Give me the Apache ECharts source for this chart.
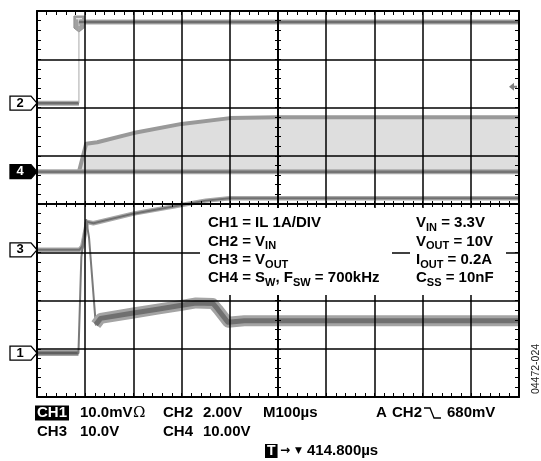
<!DOCTYPE html>
<html>
<head>
<meta charset="utf-8">
<script src="https://cdn.jsdelivr.net/npm/echarts@6/dist/echarts.min.js"></script>
<style>
  html, body { margin: 0; padding: 0; background: #fff; }
  #chart { width: 541px; height: 461px; }
</style>
</head>
<body>
<div id="chart"></div>
<script>
// all traces in screen divisions: x 0..10 (100us/div), y 0..8
const ch1Pre = [[0, 0.91], [0.86, 0.91]];
const ch1Spike = [[0.86, 0.91], [0.92, 2.9], [1.02, 3.67], [1.08, 3.3], [1.22, 1.5]];
const ch1Band = [[1.22, 1.5], [1.32, 1.63], [2, 1.74], [2.5, 1.82], [3, 1.9], [3.3, 1.95],
  [3.65, 1.94], [3.75, 1.82], [3.96, 1.55], [4.3, 1.58], [10, 1.58]];

const ch2Low = [[0, 6.09], [0.87, 6.09]];
const ch2Edge = [[0.87, 6.09], [0.87, 7.77]];
const ch2High = [[0.87, 7.77], [10, 7.77]];

const ch3Trace = [[0, 3.05], [0.88, 3.05], [0.94, 3.12], [1.04, 3.63], [1.17, 3.6], [2, 3.8],
  [3, 3.98], [3.5, 4.07], [4, 4.12], [10, 4.12]];

const ch4Base = [[0, 4.67], [10, 4.67]];
const ch4Top = [[0.87, 4.67], [1.02, 5.25], [1.25, 5.28], [2, 5.47], [3, 5.66], [4, 5.78],
  [5, 5.8], [10, 5.8]];

// channel ground markers on the left edge
const refLabels = ['1', '2', '3', '4'];
const refLevels = [0.91, 6.09, 3.05, 4.67];
const triggerTime = 0.87;
const triggerLevel = 6.43;

const notesLeft = [
  'CH1 = IL 1A/DIV',
  'CH2 = V{s|IN}',
  'CH3 = V{s|OUT}',
  'CH4 = S{s|W}, F{s|SW} = 700kHz'
];
const notesRight = [
  'V{s|IN} = 3.3V',
  'V{s|OUT} = 10V',
  'I{s|OUT} = 0.2A',
  'C{s|SS} = 10nF'
];

const FONT = 'bold 15px "Liberation Sans", Arial, sans-serif';
const chart = echarts.init(document.getElementById('chart'));

function edgeAxis(extra) {
  return Object.assign({
    type: 'value', gridIndex: 0, interval: 1,
    axisLine: { show: true, onZero: false, lineStyle: { color: '#000', width: 2 } },
    axisTick: { show: true, inside: true, length: 4, lineStyle: { color: '#000', width: 1 } },
    minorTick: { show: true, splitNumber: 5, length: 4, lineStyle: { color: '#000', width: 1 } },
    splitLine: { show: false },
    axisLabel: { show: false },
    z: 10
  }, extra);
}

function centerAxis(extra, inside) {
  return Object.assign({
    type: 'value', interval: 1,
    axisLine: { show: true, onZero: true, lineStyle: { color: '#000', width: 1.5 } },
    axisTick: { show: true, inside: inside, length: 3, lineStyle: { color: '#000', width: 1 } },
    minorTick: { show: true, splitNumber: 5, length: 3, lineStyle: { color: '#000', width: 1 } },
    splitLine: { show: false },
    axisLabel: { show: false },
    z: 10
  }, extra);
}

function trace(data, width, color, extra) {
  return Object.assign({
    type: 'line', xAxisIndex: 0, yAxisIndex: 0, data: data,
    symbol: 'none', silent: true, animation: false,
    lineStyle: { width: width, color: color, join: 'round', cap: 'butt' },
    z: 2
  }, extra);
}

const grid = { left: 37, width: 482, top: 11, height: 386 };

chart.setOption({
  animation: false,
  grid: [
    Object.assign({}, grid),
    Object.assign({}, grid),
    Object.assign({}, grid)
  ],
  xAxis: [
    edgeAxis({ min: 0, max: 10, position: 'bottom',
      splitLine: { show: true, lineStyle: { color: '#000', width: 1.5 } } }),
    edgeAxis({ min: 0, max: 10, position: 'top' }),
    centerAxis({ gridIndex: 1, min: -5, max: 5 }, true),
    centerAxis({ gridIndex: 2, min: -5, max: 5 }, false)
  ],
  yAxis: [
    edgeAxis({ min: 0, max: 8, position: 'left',
      splitLine: { show: true, lineStyle: { color: '#000', width: 1.5 } } }),
    edgeAxis({ min: 0, max: 8, position: 'right' }),
    centerAxis({ gridIndex: 1, min: -4, max: 4 }, true),
    centerAxis({ gridIndex: 2, min: -4, max: 4 }, false)
  ],
  series: [
    trace(ch4Top, 4, '#999999', { areaStyle: { color: '#dedede', origin: refLevels[3], opacity: 1 }, z: 1 }),
    trace(ch4Base, 5, '#a8a8a8'),
    trace(ch4Base, 2.5, '#747474'),
    trace(ch2Low, 5, '#a8a8a8'),
    trace(ch2Low, 2.5, '#6e6e6e'),
    trace(ch2Edge, 1, '#a8a8a8'),
    trace(ch2High, 5, '#a8a8a8'),
    trace(ch2High, 2.5, '#6e6e6e'),
    trace(ch3Trace, 4.5, '#a8a8a8'),
    trace(ch3Trace, 2, '#707070'),
    trace(ch1Pre, 6, '#a4a4a4'),
    trace(ch1Pre, 3, '#606060'),
    trace(ch1Spike, 2, '#7a7a7a', { lineStyle: { width: 2, color: '#7a7a7a', cap: 'round', join: 'round' } }),
    trace(ch1Band, 11, '#a4a4a4'),
    trace(ch1Band, 5, '#707070')
  ]
});

function px(x, y) {
  return chart.convertToPixel({ gridIndex: 0 }, [x, y]);
}

const graphics = [];

// ground markers
refLabels.forEach(function (lab, i) {
  const dark = lab === '4';
  const y = px(0, refLevels[i])[1];
  graphics.push({
    type: 'group', x: 0, y: y, z: 100,
    children: [
      { type: 'polygon', shape: { points: [[10, -7], [31, -7], [37, 0], [31, 7], [10, 7]] },
        style: { fill: dark ? '#000' : '#fff', stroke: '#000', lineWidth: 1.3 } },
      { type: 'text', x: 20, y: 0,
        style: { text: lab, font: 'bold 13px "Liberation Sans", Arial', fill: dark ? '#fff' : '#000',
          align: 'center', verticalAlign: 'middle' } }
    ]
  });
});

// trigger position and level markers
const tp = px(triggerTime, 8);
graphics.push({
  type: 'group', x: tp[0], y: tp[1], z: 100,
  children: [
    { type: 'polygon', shape: { points: [[-5, 5], [5, 5], [5, 17], [0, 21], [-5, 17]] },
      style: { fill: '#a0a0a0', stroke: '#909090', lineWidth: 1 } },
    { type: 'text', x: 0, y: 12, style: { text: 'T', font: 'bold 10px "Liberation Sans", Arial',
      fill: '#e0e0e0', align: 'center', verticalAlign: 'middle' } }
  ]
});
const tl = px(10, triggerLevel);
graphics.push({
  type: 'polygon', z: 100,
  shape: { points: [[tl[0] - 10, tl[1]], [tl[0] - 5, tl[1] - 4], [tl[0] - 5, tl[1] + 4]] },
  style: { fill: '#808080' }
});
graphics.push({
  type: 'line', z: 100,
  shape: { x1: tl[0] - 6, y1: tl[1], x2: tl[0] - 2, y2: tl[1] },
  style: { stroke: '#808080', lineWidth: 2 }
});

// annotation boxes
graphics.push({ type: 'rect', z: 90, shape: { x: 200, y: 208, width: 192, height: 87 }, style: { fill: '#fff' } });
graphics.push({ type: 'rect', z: 90, shape: { x: 410, y: 208, width: 96, height: 87 }, style: { fill: '#fff' } });

const rich = { s: { font: 'bold 11px "Liberation Sans", Arial', padding: [9, 0, 0, 0] } };
const lineY = [223, 241.5, 260, 278];
notesLeft.forEach(function (t, i) {
  graphics.push({ type: 'text', z: 100, x: 208, y: lineY[i],
    style: { text: t, font: FONT, fill: '#000', align: 'left', verticalAlign: 'middle', rich: rich } });
});
notesRight.forEach(function (t, i) {
  graphics.push({ type: 'text', z: 100, x: 416, y: lineY[i],
    style: { text: t, font: FONT, fill: '#000', align: 'left', verticalAlign: 'middle', rich: rich } });
});

// status text below the screen
function label(text, x, y, extra) {
  graphics.push({ type: 'text', z: 100, x: x, y: y,
    style: Object.assign({ text: text, font: FONT, fill: '#000', align: 'left', verticalAlign: 'middle' }, extra) });
}
label('CH1', 35, 413, { fill: '#fff', backgroundColor: '#000', padding: [0, 2, 0, 2] });
label('10.0mV', 80, 413);
label('\u03A9', 133, 413, { font: '15px "DejaVu Serif", serif' });
label('CH2', 163, 413);
label('2.00V', 203, 413);
label('M100\u00B5s', 263, 413);
label('A', 376, 413);
label('CH2', 392, 413);
graphics.push({ type: 'polyline', z: 100,
  shape: { points: [[424, 408], [430, 408], [434, 418], [441, 418]] },
  style: { stroke: '#000', lineWidth: 1.3, fill: null } });
label('680mV', 447, 413);
label('CH3', 37, 432);
label('10.0V', 80, 432);
label('CH4', 163, 432);
label('10.00V', 203, 432);
label('T', 265, 451, { fill: '#fff', backgroundColor: '#000', padding: [0, 2, 0, 2], font: 'bold 14px "Liberation Sans", Arial' });
label('\u2192', 280, 451, { font: 'bold 12px "DejaVu Sans"' });
label('\u25BC', 295, 451, { font: '9px "DejaVu Sans"' });
label('414.800\u00B5s', 307, 451);

// figure id
graphics.push({ type: 'text', z: 100, x: 536, y: 369, rotation: Math.PI / 2,
  style: { text: '04472-024', font: '10.5px "Liberation Sans", Arial', fill: '#222',
    align: 'center', verticalAlign: 'middle' } });

chart.setOption({ graphic: graphics });
</script>
</body>
</html>
